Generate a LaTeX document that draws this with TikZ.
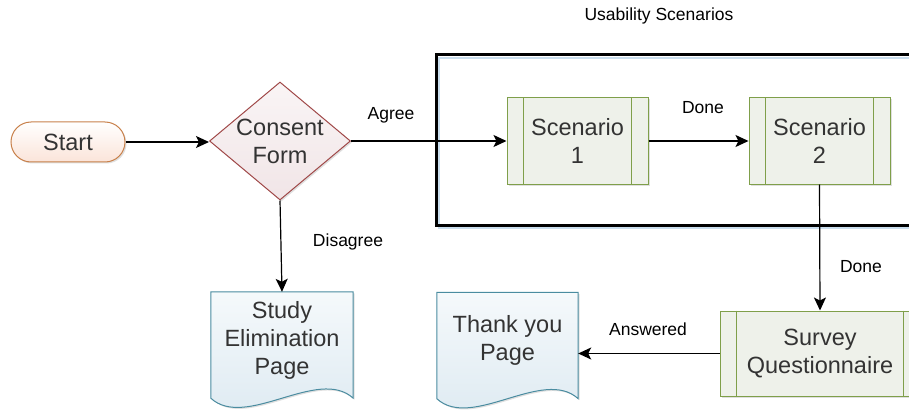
\documentclass[tikz,border=0pt]{standalone}
\usepackage{fontspec}
\setmainfont{Liberation Sans}
\usetikzlibrary{arrows.meta,shapes.geometric,calc,shadows}
\definecolor{txt}{HTML}{333333}
\definecolor{startdraw}{HTML}{C8804A}
\definecolor{startfill}{HTML}{FBE4D9}
\definecolor{dmdraw}{HTML}{A04848}
\definecolor{dmfill}{HTML}{F1E5E7}
\definecolor{scendraw}{HTML}{7F9F4A}
\definecolor{scenfill}{HTML}{EEF1EA}
\definecolor{docdraw}{HTML}{4A8CA0}
\definecolor{doctop}{HTML}{F5F9FB}
\definecolor{docbot}{HTML}{DCE9F1}
\definecolor{frameblue}{HTML}{C9DDED}
\begin{document}
\begin{tikzpicture}[x=1pt,y=-1pt,
  maintext/.style={text=txt, font=\fontsize{23.5}{28}\selectfont, align=center},
  lbl/.style={font=\fontsize{17.5}{20}\selectfont, text=black},
  conn/.style={line width=1.2pt, -{Stealth[length=13pt,width=12pt,inset=3pt]}},
  shd/.style={drop shadow={shadow xshift=1.5pt,shadow yshift=-1.5pt,opacity=0.25,fill=black!50}},
  startbox/.style={rectangle, rounded corners=20pt, minimum width=114pt, minimum height=40pt,
    draw=startdraw, line width=1pt, top color=white, bottom color=startfill, shd, maintext},
  decision/.style={diamond, draw=dmdraw, line width=1pt, top color=white!60!dmfill, bottom color=dmfill,
    minimum width=141pt, minimum height=118pt, inner sep=0pt, shd},
  scen/.style={rectangle, minimum width=141pt, minimum height=86pt, draw=scendraw, line width=1pt,
    fill=scenfill, shd, maintext},
  docnode/.style={rectangle, minimum width=142pt, minimum height=106pt, inner sep=0pt},
  frm/.style={rectangle, draw=black, line width=3pt, minimum width=494pt, minimum height=170pt, inner sep=0pt}
]
\useasboundingbox (0,0) rectangle (909,414);
\clip (0,0) rectangle (909,414);

% frame
\draw[frameblue, line width=2pt] (439,58) rectangle (940,228);
\node[frm] (frame) at (683,140) {};
\node[lbl] (title) at (659,16) {Usability Scenarios};

% nodes
\node[startbox] (start) at (68,142) {Start};
\node[decision, label={[maintext]center:Consent\\Form}] (cf) at (280,141) {};
\node[scen] (s1) at (577.5,141) {Scenario\\1};
\node[scen] (s2) at (819.5,141) {Scenario\\2};
\node[scen, minimum width=200pt, minimum height=85pt] (sq) at (820,353.5) {Survey\\Questionnaire};

\node[docnode] (sep) at (282,345) {};
\node[docnode, minimum width=141pt] (tp) at (507.5,345.5) {};
\foreach \n in {sep,tp} {
  \path[draw=docdraw, line width=1pt, top color=doctop, bottom color=docbot, shd]
    (\n.north west) -- (\n.north east) -- (\n.south east)
    .. controls ($(\n.south east)+(-35,-32)$) and ($(\n.south west)+(35,32)$) .. (\n.south west) -- cycle;
}
\node[maintext] (septext) at (282,340.5) {Study\\Elimination\\Page};
\node[maintext] (tptext) at (507.5,340.5) {Thank you\\Page};

% inner bars
\foreach \n in {s1,s2,sq} {
  \draw[scendraw, line width=1pt] ($(\n.north west)+(17,0)$) -- ($(\n.south west)+(17,0)$);
  \draw[scendraw, line width=1pt] ($(\n.north east)+(-17,0)$) -- ($(\n.south east)+(-17,0)$);
}

% connectors
\draw[conn] (start.east) -- (start.east -| cf.west);
\draw[conn] (cf.east) -- (s1.west);
\draw[conn] (s1.east) -- (s2.west);
\draw[conn] (s2.south) -- (sq.north);
\draw[conn] (sq.west) -- (sq.west -| tp.east);
\draw[conn] (cf.south) -- (sep.north);

% labels
\node[lbl] (lagree) at (391,115) {Agree};
\node[lbl] (ldone1) at (703,108) {Done};
\node[lbl] (ldone2) at (861,267) {Done};
\node[lbl] (ldis) at (348,242) {Disagree};
\node[lbl] (lans) at (648,329) {Answered};
\end{tikzpicture}
\end{document}
